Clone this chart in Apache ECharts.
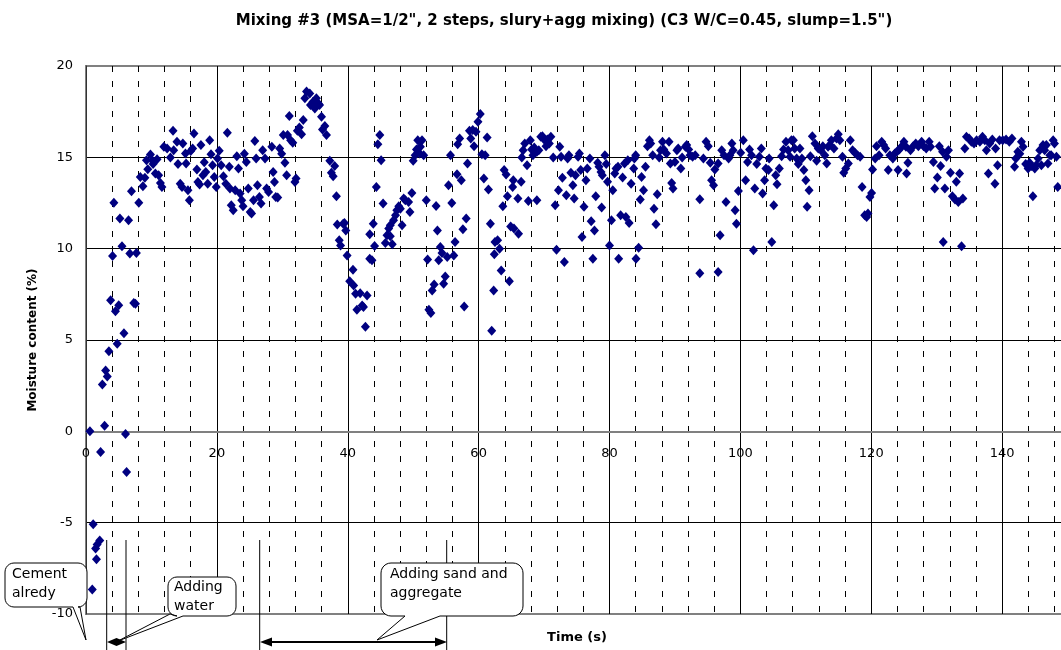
<!DOCTYPE html>
<html>
<head>
<meta charset="utf-8">
<script src="https://cdn.jsdelivr.net/npm/echarts@6/dist/echarts.min.js"></script>
<style>
html,body{margin:0;padding:0;background:#fff;}
#main{width:1061px;height:650px;}
</style>
</head>
<body>
<div id="main"></div>
<script>
const chartTitle = 'Mixing #3 (MSA=1/2", 2 steps, slury+agg mixing) (C3 W/C=0.45, slump=1.5")';
const yAxisName = 'Moisture content (%)';
const xAxisName = 'Time (s)';
const xTicks = [0, 20, 40, 60, 80, 100, 120, 140, 160];
const yTicks = [-10, -5, 0, 5, 10, 15, 20];

// [time (s), moisture content (%)]
const phase0to40 = [
[0.96,-8.66],[1.1,-5.09],[1.47,-6.41],[1.6,-7.0],[1.7,-6.19],[2.1,-5.97],[0.6,0.0],[2.23,-1.13],
[2.5,2.56],[2.84,0.31],[3.0,3.33],[3.25,3.0],[3.5,4.39],[3.76,7.17],[4.06,9.6],[4.26,12.52],
[4.5,6.58],[4.77,4.79],[5.0,6.9],[5.18,11.65],[5.5,10.13],[5.8,5.37],[6.04,-0.15],[6.2,-2.22],
[6.5,11.55],[6.7,9.73],[6.95,13.14],[7.3,7.02],[7.56,6.98],[7.7,9.76],[8.07,12.52],[8.3,13.93],
[8.7,13.42],[9.0,13.88],[9.24,14.84],[9.44,14.35],[9.85,15.16],[10.1,14.84],[10.25,14.63],[10.6,14.11],
[10.86,14.9],[11.1,14.02],[11.37,13.6],[11.6,13.38],[11.9,15.58],[12.4,15.48],[12.9,14.99],[13.3,16.45],
[13.4,15.39],[13.9,15.85],[14.06,14.63],[14.4,13.56],[14.67,13.38],[14.8,15.76],[15.2,15.21],[15.3,14.66],
[15.58,13.2],[15.8,12.65],[16.0,15.34],[16.3,15.48],[16.5,16.3],[16.95,14.33],[17.1,13.65],[17.36,13.51],
[17.56,15.67],[17.87,14.02],[18.07,14.73],[18.3,14.2],[18.6,13.56],[18.9,15.94],[19.1,15.17],[19.34,14.57],
[19.6,13.93],[19.9,13.38],[20.1,14.94],[20.36,15.36],[20.66,14.57],[21.0,13.97],[21.37,13.56],[21.6,16.34],
[21.9,14.48],[22.0,13.29],[22.2,12.38],[22.5,12.1],[22.8,13.2],[23.05,15.06],[23.3,14.39],[23.55,13.02],
[23.8,12.65],[24.0,12.32],[24.2,15.2],[24.5,14.75],[24.8,13.29],[25.1,12.01],[25.3,11.92],[25.6,12.65],
[25.8,15.9],[26.0,14.94],[26.2,13.47],[26.5,12.83],[26.75,12.47],[27.0,15.39],[27.36,14.94],[27.6,13.29],
[27.9,13.1],[28.4,15.58],[28.6,14.2],[28.8,13.65],[29.0,12.83],[29.3,12.8],[29.6,15.48],[29.9,15.2],
[30.15,16.22],[30.4,14.7],[30.66,14.02],[30.8,16.22],[31.07,17.26],[31.27,15.94],[31.6,15.8],[31.93,13.65],
[32.1,13.84],[32.3,16.45],[32.6,16.64],[32.94,16.27],[33.2,17.04],[33.45,18.23],[33.7,18.6],[34.2,18.5],
[34.3,17.86],[34.7,18.04],[34.97,17.68],[35.2,18.23],[35.5,17.95],[35.7,17.86],[35.99,17.22],[36.14,16.53],
[36.5,16.71],[36.75,16.22],[37.26,14.81],[37.5,14.15],[37.77,13.97],[38.0,14.52],[38.27,12.87],[38.4,11.32],
[38.7,10.46],[38.9,10.18],[39.3,11.37],[39.5,11.41],[39.7,11.0],[39.9,9.63]
];
const phase40to80 = [
[40.3,8.22],[40.8,8.85],[40.9,7.99],[41.2,7.53],[41.4,6.65],[41.9,7.56],[42.2,6.89],[42.4,6.8],
[42.7,5.73],[42.95,7.44],[43.36,9.45],[43.36,10.79],[43.7,9.36],[43.9,11.37],[44.1,10.15],[44.37,13.38],
[44.6,15.72],[44.9,16.22],[45.1,14.84],[45.4,12.47],[45.75,10.31],[46.0,10.73],[46.26,11.1],[46.5,10.68],
[46.5,11.28],[46.8,10.24],[47.0,11.55],[47.3,11.83],[47.5,12.1],[47.8,12.32],[48.04,12.19],[48.3,11.28],
[48.55,12.74],[48.8,12.65],[49.3,12.56],[49.5,12.01],[49.8,13.05],[50.0,14.81],[50.3,15.12],[50.5,15.43],
[50.7,15.94],[51.0,15.21],[51.1,15.58],[51.35,15.94],[51.6,15.12],[52.0,12.65],[52.2,9.41],[52.4,6.65],
[52.7,6.48],[52.9,7.71],[53.2,8.04],[53.5,12.34],[53.7,11.0],[53.9,9.36],[54.15,10.09],[54.4,9.76],
[54.65,8.08],[54.9,8.48],[55.2,9.54],[55.4,13.47],[55.7,15.12],[55.9,12.5],[56.2,9.63],[56.4,10.37],
[56.7,14.08],[56.8,15.72],[57.1,16.03],[57.35,13.75],[57.6,11.06],[57.8,6.83],[58.1,11.65],[58.3,14.66],
[58.6,16.45],[58.8,16.03],[59.1,16.49],[59.3,15.61],[59.6,16.4],[59.9,16.95],[60.25,17.37],[60.5,15.17],
[60.8,13.84],[61.0,15.12],[61.3,16.09],[61.5,13.24],[61.8,11.37],[62.0,5.51],[62.3,7.71],[62.4,9.69],
[62.5,10.37],[62.9,10.46],[63.2,10.0],[63.45,8.81],[63.7,12.32],[63.9,14.3],[64.2,14.06],[64.4,12.87],
[64.7,8.22],[64.9,11.22],[65.2,13.38],[65.3,13.75],[65.4,11.1],[66.0,12.74],[66.1,10.82],[66.5,13.66],
[66.6,14.99],[66.8,15.39],[67.05,15.76],[67.4,14.57],[67.6,12.61],[67.9,15.94],[68.1,15.43],[68.3,15.12],
[68.5,15.54],[68.9,15.3],[68.9,12.65],[69.2,15.39],[69.5,16.12],[69.75,16.16],[70.0,15.98],[70.3,15.61],
[70.5,15.98],[70.8,15.76],[71.04,16.12],[71.4,14.99],[71.7,12.38],[71.9,9.94],[72.2,13.2],[72.4,15.58],
[72.6,15.03],[72.8,13.88],[73.1,9.27],[73.4,12.93],[73.6,14.94],[73.8,15.12],[74.1,14.15],[74.4,13.47],
[74.6,12.74],[74.8,14.02],[75.2,15.03],[75.4,15.21],[75.6,14.3],[75.8,10.64],[76.1,12.29],[76.4,13.75],
[76.6,14.39],[77.0,14.94],[77.2,11.5],[77.46,9.45],[77.7,11.0],[77.9,12.87],[78.2,14.7],[78.4,14.48],
[78.7,14.2],[78.8,12.25],[78.9,14.02],[79.3,15.12],[79.5,14.63],[79.7,13.66]
];
const phase80to120 = [
[80.0,10.18],[80.3,11.55],[80.5,13.2],[80.8,14.11],[81.0,14.39],[81.3,14.48],[81.4,9.45],[81.7,11.83],
[82.0,13.9],[82.3,14.66],[82.5,11.74],[82.8,14.84],[83.0,11.41],[83.3,13.56],[83.7,14.39],[83.8,14.94],
[84.0,15.12],[84.05,9.45],[84.45,10.05],[84.7,12.69],[84.9,13.93],[85.2,13.2],[85.5,14.48],[85.8,15.61],
[86.1,15.94],[86.3,15.76],[86.6,15.12],[86.8,12.19],[87.1,11.33],[87.3,12.98],[87.6,14.99],[87.8,15.39],
[88.1,15.85],[88.3,15.43],[88.7,15.21],[89.1,15.85],[89.3,14.66],[89.5,13.6],[89.7,13.29],[90.0,14.75],
[90.3,15.39],[90.5,15.48],[90.9,14.39],[91.1,14.99],[91.6,15.58],[91.8,15.67],[92.1,15.43],[92.3,15.12],
[92.7,15.03],[93.1,15.12],[93.8,12.7],[93.8,8.66],[94.35,14.94],[94.76,15.85],[95.1,15.61],[95.4,14.7],
[95.6,13.75],[95.9,13.47],[96.1,14.33],[96.6,14.66],[96.6,8.72],[96.9,10.73],[97.15,15.39],[97.5,15.12],
[97.8,12.56],[98.2,14.94],[98.4,15.12],[98.7,15.76],[98.9,15.39],[99.2,12.1],[99.4,11.37],[99.7,13.16],
[100.05,15.25],[100.45,15.94],[100.8,13.75],[101.1,14.75],[101.4,15.43],[101.7,15.12],[102.0,9.91],[102.2,13.29],
[102.5,14.63],[102.9,15.03],[103.2,15.48],[103.4,13.02],[103.7,13.75],[103.9,14.39],[104.3,14.3],[104.4,14.94],
[104.8,10.37],[105.1,12.38],[105.4,14.02],[105.6,13.53],[105.95,14.39],[106.3,15.06],[106.6,15.43],[106.97,15.85],
[107.3,15.39],[107.6,15.03],[107.8,15.94],[108.1,15.94],[108.3,15.48],[108.6,14.94],[108.85,14.63],[109.1,15.48],
[109.4,14.94],[109.7,14.3],[110.0,13.75],[110.2,12.29],[110.5,13.2],[110.7,15.06],[111.0,16.16],[111.4,15.76],
[111.65,14.81],[111.9,15.48],[112.3,15.39],[112.6,15.61],[112.9,15.12],[113.2,14.66],[113.4,15.58],[113.7,15.67],
[113.9,15.94],[114.3,15.48],[114.7,16.03],[114.96,16.27],[115.2,15.94],[115.6,15.03],[115.8,14.15],[116.1,14.39],
[116.5,14.66],[116.8,15.94],[117.15,15.39],[117.5,15.25],[117.9,15.12],[118.3,15.03],[118.6,13.38],[119.0,11.83],
[119.3,11.74],[119.5,11.92],[119.8,12.83]
];
const phase120to150 = [
[120.05,13.05],[120.2,14.33],[120.6,14.94],[120.8,15.61],[121.2,15.12],[121.6,15.85],[121.9,15.67],[122.2,15.48],
[122.6,14.3],[122.85,15.12],[123.3,14.94],[123.6,15.21],[123.9,15.3],[124.1,14.3],[124.3,15.43],[124.6,15.58],
[124.99,15.85],[125.3,15.58],[125.4,14.11],[125.6,14.7],[126.0,15.39],[126.4,15.61],[126.8,15.76],[127.2,15.61],
[127.7,15.85],[128.0,15.61],[128.4,15.48],[128.85,15.85],[129.06,15.58],[129.5,14.75],[129.7,13.29],[130.1,13.9],
[130.4,15.61],[130.6,14.52],[130.9,15.3],[131.0,10.37],[131.25,13.29],[131.5,15.03],[131.8,15.39],[132.1,14.15],
[132.4,12.87],[132.8,12.69],[133.0,13.66],[133.3,12.56],[133.5,14.11],[133.8,10.13],[134.0,12.74],[134.3,15.48],
[134.55,16.12],[134.96,16.03],[135.3,15.85],[135.7,15.76],[136.1,15.94],[136.6,15.85],[137.0,16.12],[137.35,15.94],
[137.6,15.39],[137.9,14.11],[138.1,15.76],[138.5,15.98],[138.9,13.56],[139.0,15.48],[139.3,14.57],[139.6,15.94],
[140.1,15.94],[140.6,15.98],[141.1,15.85],[141.5,16.03],[141.9,14.48],[142.1,14.94],[142.4,15.3],[142.7,15.2],
[142.95,15.85],[143.2,15.58],[143.6,14.63],[143.97,14.39],[144.2,14.7],[144.5,14.52],[144.7,12.87],[144.99,14.39],
[145.2,14.57],[145.5,14.94],[145.75,15.39],[146.0,14.57],[146.25,15.67],[146.5,15.39],[146.76,15.67],[147.0,14.66],
[147.3,15.12],[147.5,15.12],[147.8,15.94],[148.0,15.76],[148.3,15.03],[148.5,13.38]
];

const calloutCement = ['Cement', 'alredy'];
const calloutWater = ['Adding', 'water'];
const calloutSand = ['Adding sand and', 'aggregate'];

const readings = [].concat(phase0to40, phase40to80, phase80to120, phase120to150);

const FONT = '"DejaVu Sans", "Liberation Sans", Arial, sans-serif';
const chart = echarts.init(document.getElementById('main'), null, {renderer: 'canvas'});

const GRID_TOP = 66, GRID_H = 548;
// move the x axis up to the y = 0 line
const xAxisOffset = -GRID_H * (0 - yTicks[0]) / (yTicks[yTicks.length - 1] - yTicks[0]);

function txt(lines, x, y0, dy) {
  return lines.map((t, i) => ({
    type: 'text', z: 110, x: x, y: y0 + i * dy,
    style: {text: t, font: '14px ' + FONT, fill: '#000', textAlign: 'left', textVerticalAlign: 'middle', align: 'left', verticalAlign: 'middle'}
  }));
}
// rounded box outline with a pointer inserted on the bottom edge (pointer points listed right-to-left)
function bubblePoints(x1, y1, x2, y2, r, tail) {
  const pts = [];
  function arc(cx, cy, a0, a1) {
    const n = 6;
    for (let i = 0; i <= n; i++) {
      const a = a0 + (a1 - a0) * i / n;
      pts.push([cx + r * Math.cos(a), cy + r * Math.sin(a)]);
    }
  }
  arc(x1 + r, y1 + r, Math.PI, Math.PI * 1.5);
  arc(x2 - r, y1 + r, Math.PI * 1.5, Math.PI * 2);
  arc(x2 - r, y2 - r, 0, Math.PI * 0.5);
  tail.forEach(p => pts.push(p));
  arc(x1 + r, y2 - r, Math.PI * 0.5, Math.PI);
  return pts;
}
function bubble(pts) {
  return {type: 'polygon', z: 105, shape: {points: pts}, style: {fill: '#fff', stroke: '#000', lineWidth: 1}};
}
function vline(x) {
  return {type: 'line', z: 104, shape: {x1: x, y1: 540, x2: x, y2: 652}, style: {stroke: '#000', lineWidth: 1}};
}

const option = {
  animation: false,
  backgroundColor: '#fff',
  title: {
    text: chartTitle, left: 559, top: 9, textAlign: 'center',
    textStyle: {fontFamily: FONT, fontWeight: 'bold', fontSize: 15, color: '#000'}
  },
  grid: {left: 86, top: GRID_TOP, width: 1047, height: GRID_H, show: true, borderColor: '#808080', borderWidth: 2,
         backgroundColor: 'rgba(0,0,0,0)', containLabel: false, outerBoundsMode: 'none'},
  xAxis: {
    type: 'value', min: xTicks[0], max: xTicks[xTicks.length - 1], interval: 20,
    position: 'bottom', offset: xAxisOffset,
    axisLine: {onZero: false, lineStyle: {color: '#808080', width: 2}},
    axisTick: {show: false},
    axisLabel: {margin: 16, fontFamily: FONT, fontSize: 13, color: '#000', showMaxLabel: false},
    splitLine: {show: true, lineStyle: {color: '#000', width: 1}},
    minorTick: {show: false, splitNumber: 5},
    minorSplitLine: {show: true, lineStyle: {color: '#000', width: 1, type: [6, 9]}}
  },
  yAxis: {
    type: 'value', min: yTicks[0], max: yTicks[yTicks.length - 1], interval: 5,
    name: yAxisName, nameLocation: 'middle', nameGap: 47,
    nameTextStyle: {fontFamily: FONT, fontWeight: 'bold', fontSize: 12, color: '#000'},
    axisLine: {show: true, onZero: false, lineStyle: {color: '#333', width: 1}},
    axisTick: {show: false},
    axisLabel: {margin: 13, fontFamily: FONT, fontSize: 13, color: '#000'},
    splitLine: {show: true, lineStyle: {color: ['#808080', '#000', '#808080', '#000', '#000', '#000', '#808080'], width: 1}}
  },
  series: [{
    type: 'scatter', data: readings, symbol: 'diamond', symbolSize: [9, 10],
    itemStyle: {color: '#000080', opacity: 1}, z: 5
  }],
  graphic: [].concat(
    [vline(106.7), vline(126), vline(259.7), vline(446.7)],
    [
      bubble(bubblePoints(5, 563, 87, 607, 9, [[80, 607], [86, 640], [73, 607]])),
      bubble(bubblePoints(168, 577, 236, 616, 9, [[183, 616], [118, 641], [170, 614]])),
      bubble(bubblePoints(381, 563, 523, 616, 10, [[440, 616], [377, 640], [405, 616]]))
    ],
    txt(calloutCement, 12, 574, 19),
    txt(calloutWater, 174, 587, 19),
    txt(calloutSand, 390, 574, 19),
    [
      {type: 'polygon', z: 106, shape: {points: [[107, 642], [116.5, 638], [126, 642], [116.5, 646]]}, style: {fill: '#000'}},
      {type: 'line', z: 106, shape: {x1: 268, y1: 642, x2: 439, y2: 642}, style: {stroke: '#000', lineWidth: 2}},
      {type: 'polygon', z: 106, shape: {points: [[260, 642], [272, 637.5], [272, 646.5]]}, style: {fill: '#000'}},
      {type: 'polygon', z: 106, shape: {points: [[447, 642], [435, 637.5], [435, 646.5]]}, style: {fill: '#000'}},
      {type: 'text', z: 106, x: 577, y: 638, style: {text: xAxisName, font: 'bold 13px ' + FONT, fill: '#000', textAlign: 'center', textVerticalAlign: 'middle', align: 'center', verticalAlign: 'middle'}}
    ]
  )
};
chart.setOption(option);
</script>
</body>
</html>
